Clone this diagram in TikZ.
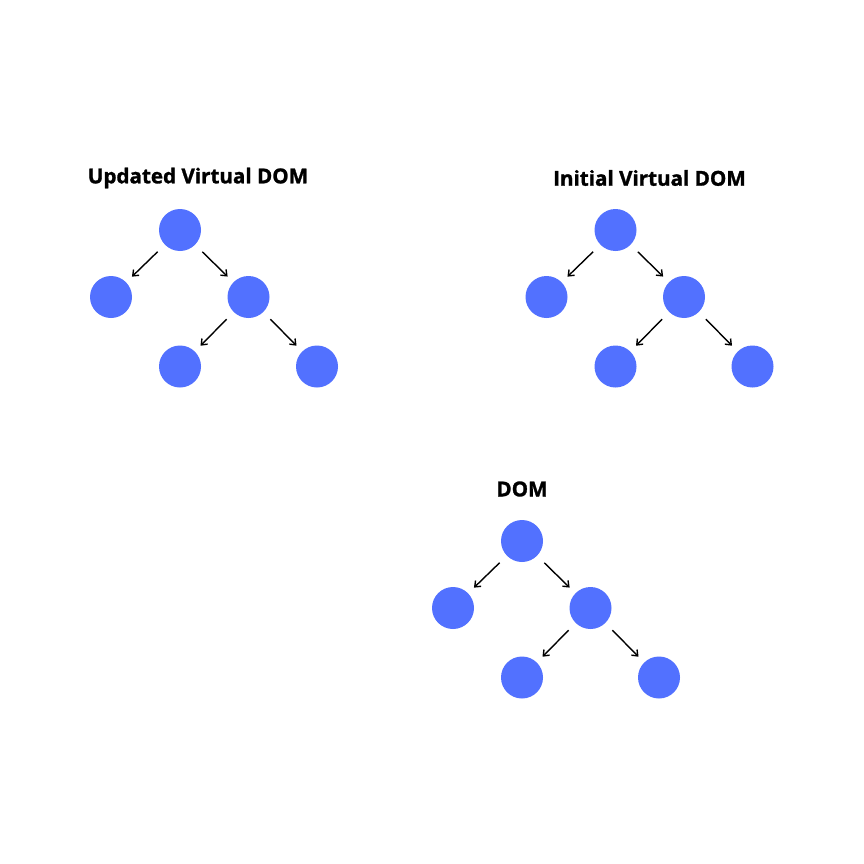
\documentclass[tikz,border=0pt]{standalone}
\usepackage{fontspec}
\setmainfont{Open Sans}
\newfontfamily\ttlfont[FakeBold=1.3]{Open Sans Bold}
\usetikzlibrary{arrows.meta}
\definecolor{nodeblue}{HTML}{5271FF}
\tikzset{
  dnode/.style={circle, fill=nodeblue, minimum size=42pt, inner sep=0pt},
  darrow/.style={-{Straight Barb[length=5pt,width=8pt]}, line width=1.4pt, shorten <=10pt, shorten >=8pt},
  ttl/.style={font=\fontsize{20.6}{23}\ttlfont, inner sep=0pt}
}
\newcommand{\domtree}[3]{%
  \node[dnode] (#1r) at (#2, #3) {};
  \node[dnode] (#1a) at (#2-69, #3+67) {};
  \node[dnode] (#1b) at (#2+68.5, #3+67) {};
  \node[dnode] (#1c) at (#2, #3+136.5) {};
  \node[dnode] (#1d) at (#2+137, #3+136.5) {};
  \draw[darrow] (#1r) -- (#1a);
  \draw[darrow] (#1r) -- (#1b);
  \draw[darrow] (#1b) -- (#1c);
  \draw[darrow] (#1b) -- (#1d);
}
\begin{document}
\begin{tikzpicture}[x=1pt,y=-1pt]
\path[fill=white] (0,0) rectangle (864,864);
\useasboundingbox (0,0) rectangle (864,864);
\node[ttl] (t1) at (198,178) {Updated Virtual DOM};
\node[ttl] (t2) at (649.5,178) {Initial Virtual DOM};
\node[ttl] (t3) at (522,489) {DOM};
\domtree{u}{180}{230}
\domtree{i}{615.5}{230}
\domtree{d}{522}{541}
\end{tikzpicture}
\end{document}
